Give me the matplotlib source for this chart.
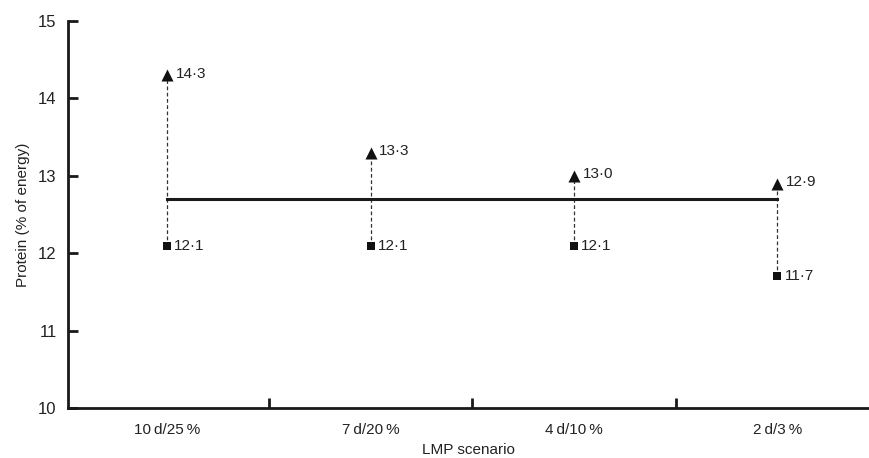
import matplotlib.pyplot as plt

plt.rcParams["font.family"] = ["Liberation Sans", "DejaVu Sans"]

scenarios = ["10\u2009d/25\u2009%", "7\u2009d/20\u2009%", "4\u2009d/10\u2009%", "2\u2009d/3\u2009%"]
upper = [14.3, 13.3, 13.0, 12.9]
lower = [12.1, 12.1, 12.1, 11.7]
reference = 12.7

x = list(range(len(scenarios)))

fig, ax = plt.subplots(figsize=(8.69, 4.58), dpi=100)
fig.subplots_adjust(left=0.078, right=1.0, top=0.954, bottom=0.109)

# dashed connectors between the two values of each scenario
for xi, hi, lo in zip(x, upper, lower):
    ax.plot([xi, xi], [lo, hi], ls=(0, (3, 2)), color="#333333", lw=0.9, zorder=1)

ax.plot([x[0], x[-1]], [reference, reference], color="#1a1a1a", lw=2.2, zorder=2)

ax.scatter(x, upper, marker="^", s=75, color="#111111", zorder=3, linewidths=0)
ax.scatter(x, lower, marker="s", s=32, color="#111111", zorder=3, linewidths=0)

for xi, hi, lo in zip(x, upper, lower):
    ax.annotate(f"{hi:.1f}".replace(".", "\u00b7"), (xi, hi), xytext=(6, 1),
                textcoords="offset points", va="center", ha="left", fontsize=11, color="#222222")
    ax.annotate(f"{lo:.1f}".replace(".", "\u00b7"), (xi, lo), xytext=(5, 0),
                textcoords="offset points", va="center", ha="left", fontsize=11, color="#222222")

ax.set_xlim(-0.49, 3.45)
ax.set_ylim(10, 15)
ax.set_yticks([10, 11, 12, 13, 14, 15])
ax.set_xticks(x)
ax.set_xticklabels(scenarios, fontsize=11, color="#222222")
ax.set_xticks([0.5, 1.5, 2.5], minor=True)
ax.tick_params(axis="x", which="major", length=0, pad=11)
ax.tick_params(axis="x", which="minor", direction="in", length=7, width=2, color="#1a1a1a")
ax.tick_params(axis="y", direction="in", length=7, width=2, color="#1a1a1a",
               labelsize=12, labelcolor="#222222", pad=8)

for side in ["top", "right"]:
    ax.spines[side].set_visible(False)
for side in ["left", "bottom"]:
    ax.spines[side].set_linewidth(2)
    ax.spines[side].set_color("#1a1a1a")

ax.set_xlabel("LMP scenario", fontsize=11, color="#222222", labelpad=4)
ax.set_ylabel("Protein (% of energy)", fontsize=11, color="#222222", labelpad=6)

plt.savefig("out.png", dpi=100)
plt.close()
